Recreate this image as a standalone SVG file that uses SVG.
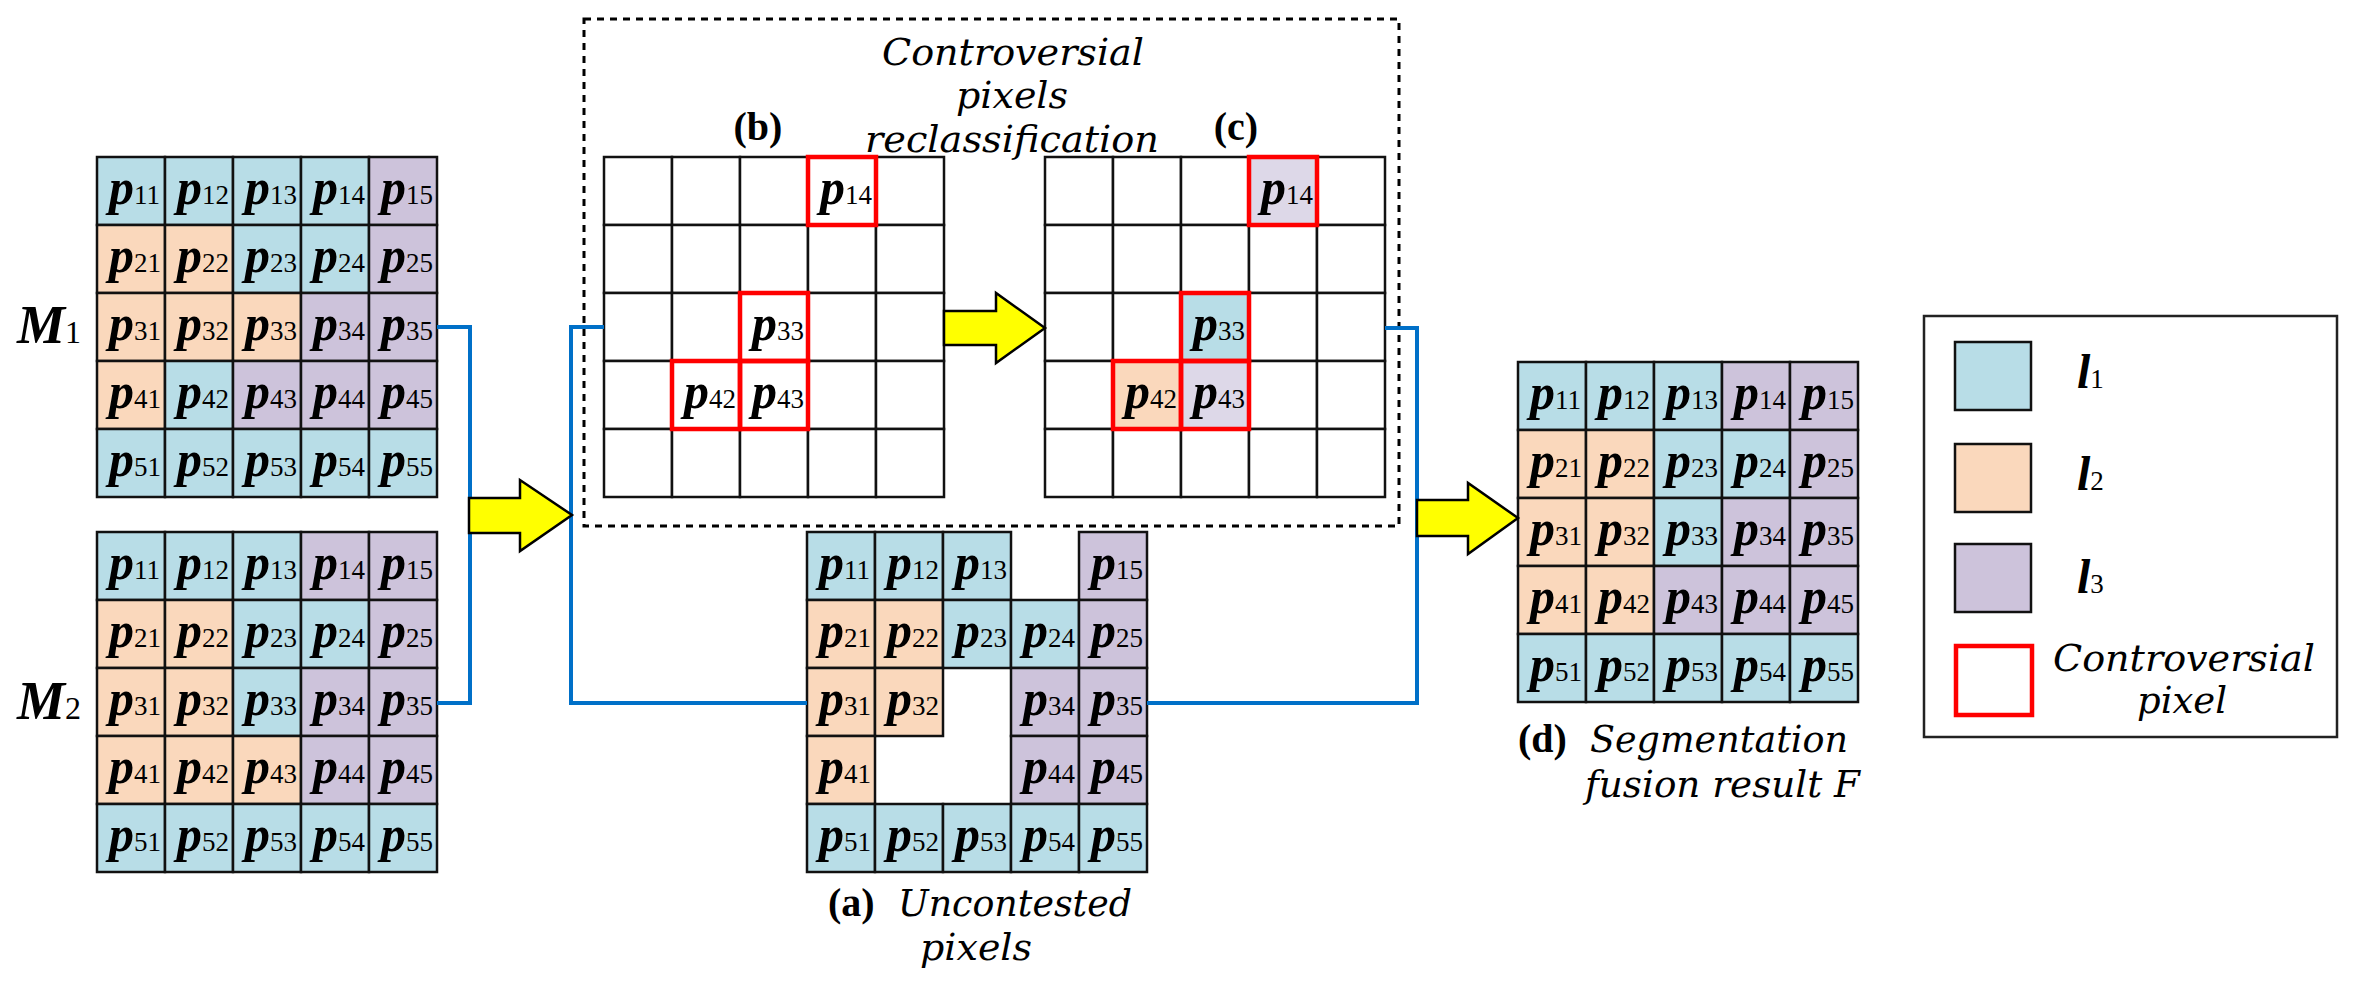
<svg xmlns="http://www.w3.org/2000/svg" width="2355" height="986" viewBox="0 0 2355 986">
<style>
.c{stroke:#111;stroke-width:2.5}
.B{fill:#b8dde7}.O{fill:#fad8bc}.P{fill:#cdc3db}.Q{fill:#ddd8e8}.W{fill:#fff}
.r{fill:none;stroke:#f00;stroke-width:4.5}
.t{font-family:"Liberation Serif","DejaVu Serif",serif;font-style:italic;font-weight:bold;font-size:50px;fill:#000}
.s{font-style:normal;font-weight:normal;font-size:27px}
.lab{font-family:"DejaVu Serif","Liberation Serif",serif;font-style:italic;font-size:38px;fill:#000}
.bl{font-family:"Liberation Serif","DejaVu Serif",serif;font-weight:bold;font-size:40px;fill:#000}
.ar{fill:#ffff00;stroke:#000;stroke-width:2.5;stroke-linejoin:miter}
.ln{fill:none;stroke:#0070c8;stroke-width:4}
</style>
<g id="M1">
<text class="t" x="17" y="343" style="font-size:54px">M<tspan class="s" style="font-size:32px">1</tspan></text>
<rect class="c B" x="97" y="157" width="68" height="68"/><rect class="c B" x="165" y="157" width="68" height="68"/><rect class="c B" x="233" y="157" width="68" height="68"/><rect class="c B" x="301" y="157" width="68" height="68"/><rect class="c P" x="369" y="157" width="68" height="68"/>
<rect class="c O" x="97" y="225" width="68" height="68"/><rect class="c O" x="165" y="225" width="68" height="68"/><rect class="c B" x="233" y="225" width="68" height="68"/><rect class="c B" x="301" y="225" width="68" height="68"/><rect class="c P" x="369" y="225" width="68" height="68"/>
<rect class="c O" x="97" y="293" width="68" height="68"/><rect class="c O" x="165" y="293" width="68" height="68"/><rect class="c O" x="233" y="293" width="68" height="68"/><rect class="c P" x="301" y="293" width="68" height="68"/><rect class="c P" x="369" y="293" width="68" height="68"/>
<rect class="c O" x="97" y="361" width="68" height="68"/><rect class="c B" x="165" y="361" width="68" height="68"/><rect class="c P" x="233" y="361" width="68" height="68"/><rect class="c P" x="301" y="361" width="68" height="68"/><rect class="c P" x="369" y="361" width="68" height="68"/>
<rect class="c B" x="97" y="429" width="68" height="68"/><rect class="c B" x="165" y="429" width="68" height="68"/><rect class="c B" x="233" y="429" width="68" height="68"/><rect class="c B" x="301" y="429" width="68" height="68"/><rect class="c B" x="369" y="429" width="68" height="68"/>
<text class="t" x="109" y="204">p<tspan class="s">11</tspan></text><text class="t" x="177" y="204">p<tspan class="s">12</tspan></text><text class="t" x="245" y="204">p<tspan class="s">13</tspan></text><text class="t" x="313" y="204">p<tspan class="s">14</tspan></text><text class="t" x="381" y="204">p<tspan class="s">15</tspan></text>
<text class="t" x="109" y="272">p<tspan class="s">21</tspan></text><text class="t" x="177" y="272">p<tspan class="s">22</tspan></text><text class="t" x="245" y="272">p<tspan class="s">23</tspan></text><text class="t" x="313" y="272">p<tspan class="s">24</tspan></text><text class="t" x="381" y="272">p<tspan class="s">25</tspan></text>
<text class="t" x="109" y="340">p<tspan class="s">31</tspan></text><text class="t" x="177" y="340">p<tspan class="s">32</tspan></text><text class="t" x="245" y="340">p<tspan class="s">33</tspan></text><text class="t" x="313" y="340">p<tspan class="s">34</tspan></text><text class="t" x="381" y="340">p<tspan class="s">35</tspan></text>
<text class="t" x="109" y="408">p<tspan class="s">41</tspan></text><text class="t" x="177" y="408">p<tspan class="s">42</tspan></text><text class="t" x="245" y="408">p<tspan class="s">43</tspan></text><text class="t" x="313" y="408">p<tspan class="s">44</tspan></text><text class="t" x="381" y="408">p<tspan class="s">45</tspan></text>
<text class="t" x="109" y="476">p<tspan class="s">51</tspan></text><text class="t" x="177" y="476">p<tspan class="s">52</tspan></text><text class="t" x="245" y="476">p<tspan class="s">53</tspan></text><text class="t" x="313" y="476">p<tspan class="s">54</tspan></text><text class="t" x="381" y="476">p<tspan class="s">55</tspan></text>
</g>
<g id="M2">
<text class="t" x="17" y="719" style="font-size:54px">M<tspan class="s" style="font-size:32px">2</tspan></text>
<rect class="c B" x="97" y="532" width="68" height="68"/><rect class="c B" x="165" y="532" width="68" height="68"/><rect class="c B" x="233" y="532" width="68" height="68"/><rect class="c P" x="301" y="532" width="68" height="68"/><rect class="c P" x="369" y="532" width="68" height="68"/>
<rect class="c O" x="97" y="600" width="68" height="68"/><rect class="c O" x="165" y="600" width="68" height="68"/><rect class="c B" x="233" y="600" width="68" height="68"/><rect class="c B" x="301" y="600" width="68" height="68"/><rect class="c P" x="369" y="600" width="68" height="68"/>
<rect class="c O" x="97" y="668" width="68" height="68"/><rect class="c O" x="165" y="668" width="68" height="68"/><rect class="c B" x="233" y="668" width="68" height="68"/><rect class="c P" x="301" y="668" width="68" height="68"/><rect class="c P" x="369" y="668" width="68" height="68"/>
<rect class="c O" x="97" y="736" width="68" height="68"/><rect class="c O" x="165" y="736" width="68" height="68"/><rect class="c O" x="233" y="736" width="68" height="68"/><rect class="c P" x="301" y="736" width="68" height="68"/><rect class="c P" x="369" y="736" width="68" height="68"/>
<rect class="c B" x="97" y="804" width="68" height="68"/><rect class="c B" x="165" y="804" width="68" height="68"/><rect class="c B" x="233" y="804" width="68" height="68"/><rect class="c B" x="301" y="804" width="68" height="68"/><rect class="c B" x="369" y="804" width="68" height="68"/>
<text class="t" x="109" y="579">p<tspan class="s">11</tspan></text><text class="t" x="177" y="579">p<tspan class="s">12</tspan></text><text class="t" x="245" y="579">p<tspan class="s">13</tspan></text><text class="t" x="313" y="579">p<tspan class="s">14</tspan></text><text class="t" x="381" y="579">p<tspan class="s">15</tspan></text>
<text class="t" x="109" y="647">p<tspan class="s">21</tspan></text><text class="t" x="177" y="647">p<tspan class="s">22</tspan></text><text class="t" x="245" y="647">p<tspan class="s">23</tspan></text><text class="t" x="313" y="647">p<tspan class="s">24</tspan></text><text class="t" x="381" y="647">p<tspan class="s">25</tspan></text>
<text class="t" x="109" y="715">p<tspan class="s">31</tspan></text><text class="t" x="177" y="715">p<tspan class="s">32</tspan></text><text class="t" x="245" y="715">p<tspan class="s">33</tspan></text><text class="t" x="313" y="715">p<tspan class="s">34</tspan></text><text class="t" x="381" y="715">p<tspan class="s">35</tspan></text>
<text class="t" x="109" y="783">p<tspan class="s">41</tspan></text><text class="t" x="177" y="783">p<tspan class="s">42</tspan></text><text class="t" x="245" y="783">p<tspan class="s">43</tspan></text><text class="t" x="313" y="783">p<tspan class="s">44</tspan></text><text class="t" x="381" y="783">p<tspan class="s">45</tspan></text>
<text class="t" x="109" y="851">p<tspan class="s">51</tspan></text><text class="t" x="177" y="851">p<tspan class="s">52</tspan></text><text class="t" x="245" y="851">p<tspan class="s">53</tspan></text><text class="t" x="313" y="851">p<tspan class="s">54</tspan></text><text class="t" x="381" y="851">p<tspan class="s">55</tspan></text>
</g>
<g id="reclass-box">
<rect x="584" y="19" width="815" height="507" fill="none" stroke="#000" stroke-width="3" stroke-dasharray="7,6"/>
<text class="lab" x="1013" y="65" text-anchor="middle" textLength="262" lengthAdjust="spacingAndGlyphs">Controversial</text>
<text class="lab" x="1012" y="108" text-anchor="middle" textLength="112" lengthAdjust="spacingAndGlyphs">pixels</text>
<text class="lab" x="1012" y="152" text-anchor="middle" textLength="294" lengthAdjust="spacingAndGlyphs">reclassification</text>
</g>
<g id="b">
<text class="bl" x="758" y="140" text-anchor="middle">(b)</text>
<rect class="c W" x="604" y="157" width="68" height="68"/><rect class="c W" x="672" y="157" width="68" height="68"/><rect class="c W" x="740" y="157" width="68" height="68"/><rect class="c W" x="808" y="157" width="68" height="68"/><rect class="c W" x="876" y="157" width="68" height="68"/>
<rect class="c W" x="604" y="225" width="68" height="68"/><rect class="c W" x="672" y="225" width="68" height="68"/><rect class="c W" x="740" y="225" width="68" height="68"/><rect class="c W" x="808" y="225" width="68" height="68"/><rect class="c W" x="876" y="225" width="68" height="68"/>
<rect class="c W" x="604" y="293" width="68" height="68"/><rect class="c W" x="672" y="293" width="68" height="68"/><rect class="c W" x="740" y="293" width="68" height="68"/><rect class="c W" x="808" y="293" width="68" height="68"/><rect class="c W" x="876" y="293" width="68" height="68"/>
<rect class="c W" x="604" y="361" width="68" height="68"/><rect class="c W" x="672" y="361" width="68" height="68"/><rect class="c W" x="740" y="361" width="68" height="68"/><rect class="c W" x="808" y="361" width="68" height="68"/><rect class="c W" x="876" y="361" width="68" height="68"/>
<rect class="c W" x="604" y="429" width="68" height="68"/><rect class="c W" x="672" y="429" width="68" height="68"/><rect class="c W" x="740" y="429" width="68" height="68"/><rect class="c W" x="808" y="429" width="68" height="68"/><rect class="c W" x="876" y="429" width="68" height="68"/>
<rect class="r" x="808" y="157" width="68" height="68"/><rect class="r" x="740" y="293" width="68" height="68"/><rect class="r" x="672" y="361" width="68" height="68"/><rect class="r" x="740" y="361" width="68" height="68"/>
<text class="t" x="820" y="204">p<tspan class="s">14</tspan></text><text class="t" x="752" y="340">p<tspan class="s">33</tspan></text><text class="t" x="684" y="408">p<tspan class="s">42</tspan></text><text class="t" x="752" y="408">p<tspan class="s">43</tspan></text>
</g>
<g id="c">
<text class="bl" x="1236" y="140" text-anchor="middle">(c)</text>
<rect class="c W" x="1045" y="157" width="68" height="68"/><rect class="c W" x="1113" y="157" width="68" height="68"/><rect class="c W" x="1181" y="157" width="68" height="68"/><rect class="c Q" x="1249" y="157" width="68" height="68"/><rect class="c W" x="1317" y="157" width="68" height="68"/>
<rect class="c W" x="1045" y="225" width="68" height="68"/><rect class="c W" x="1113" y="225" width="68" height="68"/><rect class="c W" x="1181" y="225" width="68" height="68"/><rect class="c W" x="1249" y="225" width="68" height="68"/><rect class="c W" x="1317" y="225" width="68" height="68"/>
<rect class="c W" x="1045" y="293" width="68" height="68"/><rect class="c W" x="1113" y="293" width="68" height="68"/><rect class="c B" x="1181" y="293" width="68" height="68"/><rect class="c W" x="1249" y="293" width="68" height="68"/><rect class="c W" x="1317" y="293" width="68" height="68"/>
<rect class="c W" x="1045" y="361" width="68" height="68"/><rect class="c O" x="1113" y="361" width="68" height="68"/><rect class="c Q" x="1181" y="361" width="68" height="68"/><rect class="c W" x="1249" y="361" width="68" height="68"/><rect class="c W" x="1317" y="361" width="68" height="68"/>
<rect class="c W" x="1045" y="429" width="68" height="68"/><rect class="c W" x="1113" y="429" width="68" height="68"/><rect class="c W" x="1181" y="429" width="68" height="68"/><rect class="c W" x="1249" y="429" width="68" height="68"/><rect class="c W" x="1317" y="429" width="68" height="68"/>
<rect class="r" x="1249" y="157" width="68" height="68"/><rect class="r" x="1181" y="293" width="68" height="68"/><rect class="r" x="1113" y="361" width="68" height="68"/><rect class="r" x="1181" y="361" width="68" height="68"/>
<text class="t" x="1261" y="204">p<tspan class="s">14</tspan></text><text class="t" x="1193" y="340">p<tspan class="s">33</tspan></text><text class="t" x="1125" y="408">p<tspan class="s">42</tspan></text><text class="t" x="1193" y="408">p<tspan class="s">43</tspan></text>
</g>
<g id="a">
<rect class="c B" x="807" y="532" width="68" height="68"/><rect class="c B" x="875" y="532" width="68" height="68"/><rect class="c B" x="943" y="532" width="68" height="68"/><rect class="c P" x="1079" y="532" width="68" height="68"/>
<rect class="c O" x="807" y="600" width="68" height="68"/><rect class="c O" x="875" y="600" width="68" height="68"/><rect class="c B" x="943" y="600" width="68" height="68"/><rect class="c B" x="1011" y="600" width="68" height="68"/><rect class="c P" x="1079" y="600" width="68" height="68"/>
<rect class="c O" x="807" y="668" width="68" height="68"/><rect class="c O" x="875" y="668" width="68" height="68"/><rect class="c P" x="1011" y="668" width="68" height="68"/><rect class="c P" x="1079" y="668" width="68" height="68"/>
<rect class="c O" x="807" y="736" width="68" height="68"/><rect class="c P" x="1011" y="736" width="68" height="68"/><rect class="c P" x="1079" y="736" width="68" height="68"/>
<rect class="c B" x="807" y="804" width="68" height="68"/><rect class="c B" x="875" y="804" width="68" height="68"/><rect class="c B" x="943" y="804" width="68" height="68"/><rect class="c B" x="1011" y="804" width="68" height="68"/><rect class="c B" x="1079" y="804" width="68" height="68"/>
<text class="t" x="819" y="579">p<tspan class="s">11</tspan></text><text class="t" x="887" y="579">p<tspan class="s">12</tspan></text><text class="t" x="955" y="579">p<tspan class="s">13</tspan></text><text class="t" x="1091" y="579">p<tspan class="s">15</tspan></text>
<text class="t" x="819" y="647">p<tspan class="s">21</tspan></text><text class="t" x="887" y="647">p<tspan class="s">22</tspan></text><text class="t" x="955" y="647">p<tspan class="s">23</tspan></text><text class="t" x="1023" y="647">p<tspan class="s">24</tspan></text><text class="t" x="1091" y="647">p<tspan class="s">25</tspan></text>
<text class="t" x="819" y="715">p<tspan class="s">31</tspan></text><text class="t" x="887" y="715">p<tspan class="s">32</tspan></text><text class="t" x="1023" y="715">p<tspan class="s">34</tspan></text><text class="t" x="1091" y="715">p<tspan class="s">35</tspan></text>
<text class="t" x="819" y="783">p<tspan class="s">41</tspan></text><text class="t" x="1023" y="783">p<tspan class="s">44</tspan></text><text class="t" x="1091" y="783">p<tspan class="s">45</tspan></text>
<text class="t" x="819" y="851">p<tspan class="s">51</tspan></text><text class="t" x="887" y="851">p<tspan class="s">52</tspan></text><text class="t" x="955" y="851">p<tspan class="s">53</tspan></text><text class="t" x="1023" y="851">p<tspan class="s">54</tspan></text><text class="t" x="1091" y="851">p<tspan class="s">55</tspan></text>
<text class="bl" x="828" y="916" style="font-size:40px">(a)</text>
<text class="lab" x="1132" y="916" text-anchor="end" textLength="234" lengthAdjust="spacingAndGlyphs">Uncontested</text>
<text class="lab" x="1032" y="960" text-anchor="end" textLength="112" lengthAdjust="spacingAndGlyphs">pixels</text>
</g>
<g id="d">
<rect class="c B" x="1518" y="362" width="68" height="68"/><rect class="c B" x="1586" y="362" width="68" height="68"/><rect class="c B" x="1654" y="362" width="68" height="68"/><rect class="c P" x="1722" y="362" width="68" height="68"/><rect class="c P" x="1790" y="362" width="68" height="68"/>
<rect class="c O" x="1518" y="430" width="68" height="68"/><rect class="c O" x="1586" y="430" width="68" height="68"/><rect class="c B" x="1654" y="430" width="68" height="68"/><rect class="c B" x="1722" y="430" width="68" height="68"/><rect class="c P" x="1790" y="430" width="68" height="68"/>
<rect class="c O" x="1518" y="498" width="68" height="68"/><rect class="c O" x="1586" y="498" width="68" height="68"/><rect class="c B" x="1654" y="498" width="68" height="68"/><rect class="c P" x="1722" y="498" width="68" height="68"/><rect class="c P" x="1790" y="498" width="68" height="68"/>
<rect class="c O" x="1518" y="566" width="68" height="68"/><rect class="c O" x="1586" y="566" width="68" height="68"/><rect class="c P" x="1654" y="566" width="68" height="68"/><rect class="c P" x="1722" y="566" width="68" height="68"/><rect class="c P" x="1790" y="566" width="68" height="68"/>
<rect class="c B" x="1518" y="634" width="68" height="68"/><rect class="c B" x="1586" y="634" width="68" height="68"/><rect class="c B" x="1654" y="634" width="68" height="68"/><rect class="c B" x="1722" y="634" width="68" height="68"/><rect class="c B" x="1790" y="634" width="68" height="68"/>
<text class="t" x="1530" y="409">p<tspan class="s">11</tspan></text><text class="t" x="1598" y="409">p<tspan class="s">12</tspan></text><text class="t" x="1666" y="409">p<tspan class="s">13</tspan></text><text class="t" x="1734" y="409">p<tspan class="s">14</tspan></text><text class="t" x="1802" y="409">p<tspan class="s">15</tspan></text>
<text class="t" x="1530" y="477">p<tspan class="s">21</tspan></text><text class="t" x="1598" y="477">p<tspan class="s">22</tspan></text><text class="t" x="1666" y="477">p<tspan class="s">23</tspan></text><text class="t" x="1734" y="477">p<tspan class="s">24</tspan></text><text class="t" x="1802" y="477">p<tspan class="s">25</tspan></text>
<text class="t" x="1530" y="545">p<tspan class="s">31</tspan></text><text class="t" x="1598" y="545">p<tspan class="s">32</tspan></text><text class="t" x="1666" y="545">p<tspan class="s">33</tspan></text><text class="t" x="1734" y="545">p<tspan class="s">34</tspan></text><text class="t" x="1802" y="545">p<tspan class="s">35</tspan></text>
<text class="t" x="1530" y="613">p<tspan class="s">41</tspan></text><text class="t" x="1598" y="613">p<tspan class="s">42</tspan></text><text class="t" x="1666" y="613">p<tspan class="s">43</tspan></text><text class="t" x="1734" y="613">p<tspan class="s">44</tspan></text><text class="t" x="1802" y="613">p<tspan class="s">45</tspan></text>
<text class="t" x="1530" y="681">p<tspan class="s">51</tspan></text><text class="t" x="1598" y="681">p<tspan class="s">52</tspan></text><text class="t" x="1666" y="681">p<tspan class="s">53</tspan></text><text class="t" x="1734" y="681">p<tspan class="s">54</tspan></text><text class="t" x="1802" y="681">p<tspan class="s">55</tspan></text>
<text class="bl" x="1518" y="752" style="font-size:40px">(d)</text>
<text class="lab" x="1848" y="752" text-anchor="end" textLength="258" lengthAdjust="spacingAndGlyphs">Segmentation</text>
<text class="lab" x="1860" y="797" text-anchor="end" textLength="275" lengthAdjust="spacingAndGlyphs">fusion result F</text>
</g>
<g id="legend">
<rect x="1924" y="316" width="413" height="421" fill="#fff" stroke="#222" stroke-width="2.5"/>
<rect class="c B" x="1955" y="342" width="76" height="68"/>
<rect class="c O" x="1955" y="444" width="76" height="68"/>
<rect class="c P" x="1955" y="544" width="76" height="68"/>
<rect class="r" x="1956" y="646" width="76" height="69"/>
<text class="t" x="2077" y="388" style="font-size:48px">l<tspan class="s">1</tspan></text>
<text class="t" x="2077" y="490" style="font-size:48px">l<tspan class="s">2</tspan></text>
<text class="t" x="2077" y="593" style="font-size:48px">l<tspan class="s">3</tspan></text>
<text class="lab" x="2184" y="671" text-anchor="middle" textLength="262" lengthAdjust="spacingAndGlyphs">Controversial</text>
<text class="lab" x="2182" y="713" text-anchor="middle" textLength="90" lengthAdjust="spacingAndGlyphs">pixel</text>
</g>
<g id="connectors">
<polyline class="ln" points="437,327 470,327 470,703 437,703"/>
<polyline class="ln" points="604,327 571,327 571,703 807,703"/>
<polyline class="ln" points="1385,328 1417,328 1417,703 1147,703"/>
<polygon class="ar" points="469,498 520,498 520,480 572,515 520,551 520,533 469,533"/>
<polygon class="ar" points="944,311 996,311 996,293 1045,328 996,363 996,345 944,345"/>
<polygon class="ar" points="1417,500 1468,500 1468,483 1518,518 1468,554 1468,536 1417,536"/>
</g>
</svg>
